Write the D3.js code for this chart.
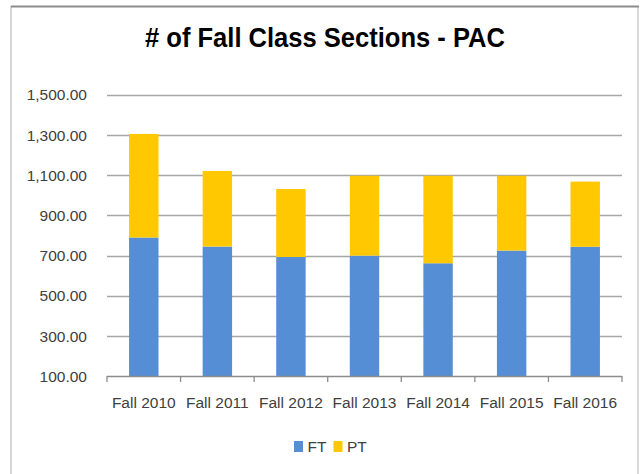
<!DOCTYPE html>
<html>
<head>
<meta charset="utf-8">
<script src="https://cdn.jsdelivr.net/npm/d3@7"></script>
<style>
  body { margin: 0; background: #fff; }
  text { font-family: "Liberation Sans", Arial, sans-serif; }
</style>
</head>
<body>
<div id="chart"></div>
<script>
// # of Fall Class Sections - PAC, stacked columns FT + PT

var terms = ["Fall 2010", "Fall 2011", "Fall 2012", "Fall 2013", "Fall 2014", "Fall 2015", "Fall 2016"];
var ftValues = [790, 745, 693, 700, 662, 725, 744];
var ptValues = [515, 376, 338, 397, 435, 372, 324];
var seriesNames = ["FT", "PT"];
var seriesColors = ["#558ed5", "#ffc800"];
var yTicks = [100, 300, 500, 700, 900, 1100, 1300, 1500];

var width = 642, height = 474;
var margin = {top: 95, right: 20, bottom: 98, left: 107};

var svg = d3.select("#chart").append("svg")
  .attr("width", width)
  .attr("height", height);

svg.append("rect").attr("width", width).attr("height", height).attr("fill", "#fff");

// chart frame
svg.append("line").attr("x1", 11).attr("x2", 11).attr("y1", 6).attr("y2", height)
  .attr("stroke", "#c8c8c8").attr("stroke-width", 1.5);
svg.append("line").attr("x1", 638).attr("x2", 638).attr("y1", 6).attr("y2", height)
  .attr("stroke", "#d9d9d9").attr("stroke-width", 2);
svg.append("line").attr("x1", 11).attr("x2", 639).attr("y1", 6.5).attr("y2", 6.5)
  .attr("stroke", "#8c8c8c").attr("stroke-width", 2);

svg.append("text")
  .attr("x", 325).attr("y", 47)
  .attr("text-anchor", "middle")
  .style("font-size", "27px")
  .style("font-weight", "bold")
  .attr("fill", "#000")
  .attr("textLength", 360)
  .attr("lengthAdjust", "spacingAndGlyphs")
  .text("# of Fall Class Sections - PAC");

var x = d3.scaleBand()
  .domain(terms)
  .range([margin.left, width - margin.right])
  .paddingInner(0.6)
  .paddingOuter(0.3);

var y = d3.scaleLinear()
  .domain([100, 1500])
  .range([376.3, 94.7]);

// gridlines
svg.append("g")
  .selectAll("line")
  .data(yTicks.slice(1))
  .enter().append("line")
  .attr("x1", margin.left).attr("x2", width - margin.right)
  .attr("y1", function(d) { return Math.round(y(d)) + 0.5; })
  .attr("y2", function(d) { return Math.round(y(d)) + 0.5; })
  .attr("stroke", "#a6a6a6")
  .attr("stroke-width", 1.3);

// y labels
svg.append("g")
  .selectAll("text")
  .data(yTicks)
  .enter().append("text")
  .attr("x", 87)
  .attr("y", function(d) { return y(d); })
  .attr("dy", "0.36em")
  .attr("text-anchor", "end")
  .style("font-size", "15.5px")
  .attr("fill", "#404040")
  .text(function(d) { return d3.format(",.2f")(d); });

var rows = terms.map(function(t, i) { return {term: t, FT: ftValues[i], PT: ptValues[i]}; });
var stacked = d3.stack().keys(seriesNames)(rows);
var yMin = y.domain()[0];

svg.append("g")
  .selectAll("g")
  .data(stacked)
  .enter().append("g")
  .attr("fill", function(d, i) { return seriesColors[i]; })
  .selectAll("rect")
  .data(function(d) { return d; })
  .enter().append("rect")
  .attr("x", function(d) { return x(d.data.term); })
  .attr("width", x.bandwidth())
  .attr("y", function(d) { return y(d[1]); })
  .attr("height", function(d) { return y(Math.max(d[0], yMin)) - y(d[1]); });

// x axis
var xAxis = svg.append("g");
var slot = (width - margin.right - margin.left) / terms.length;
xAxis.append("line")
  .attr("x1", margin.left).attr("x2", width - margin.right)
  .attr("y1", 376.5).attr("y2", 376.5)
  .attr("stroke", "#8c8c8c").attr("stroke-width", 1.3);
xAxis.selectAll("line.tick")
  .data(d3.range(terms.length + 1))
  .enter().append("line")
  .attr("class", "tick")
  .attr("x1", function(i) { return margin.left + i * slot; })
  .attr("x2", function(i) { return margin.left + i * slot; })
  .attr("y1", 376).attr("y2", 382)
  .attr("stroke", "#8c8c8c").attr("stroke-width", 1.3);
xAxis.selectAll("text")
  .data(terms)
  .enter().append("text")
  .attr("x", function(d) { return x(d) + x.bandwidth() / 2; })
  .attr("y", 408)
  .attr("text-anchor", "middle")
  .style("font-size", "15.5px")
  .attr("fill", "#404040")
  .text(function(d) { return d; });

// legend
var legend = svg.append("g").selectAll("g")
  .data(seriesNames)
  .enter().append("g")
  .attr("transform", function(d, i) { return "translate(" + (294 + i * 39.5) + ",0)"; });
legend.append("rect")
  .attr("x", 0).attr("y", 441)
  .attr("width", 9).attr("height", 11)
  .attr("fill", function(d, i) { return seriesColors[i]; });
legend.append("text")
  .attr("x", 13.5).attr("y", 452)
  .style("font-size", "15.5px")
  .attr("fill", "#404040")
  .text(function(d) { return d; });
</script>
</body>
</html>
